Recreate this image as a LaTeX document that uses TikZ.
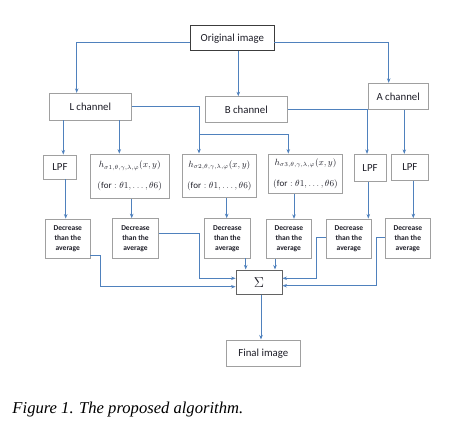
\documentclass[tikz,border=0pt]{standalone}
\usepackage{fontspec}
\setmainfont{Carlito}
\newfontfamily\capfont{Liberation Serif}
\usetikzlibrary{arrows.meta}
\definecolor{lineblue}{RGB}{79,129,189}
\definecolor{boxgray}{RGB}{160,160,160}
\definecolor{boxdark}{RGB}{60,60,60}
\definecolor{txt}{RGB}{30,30,40}
\begin{document}
\begin{tikzpicture}[x=1pt,y=-1pt,
  box/.style={draw=boxgray,line width=0.9pt,fill=white,inner sep=0pt,text=txt,align=center,font=\fontsize{10.8}{13}\selectfont},
  decbox/.style={box,font=\fontsize{7.5}{10}\selectfont\bfseries},
  hbox/.style={box,font=\fontsize{9}{11}\selectfont},
  conn/.style={draw=lineblue,line width=0.8pt},
  arr/.style={conn,-{Stealth[length=4.5pt,width=3.5pt]}}]
\useasboundingbox (0,0) rectangle (452,425);
\fill[white] (0,0) rectangle (452,425);
% nodes
\node[box,draw=boxdark,minimum width=83.3pt,minimum height=25pt] (orig) at (232.3,38.2) {Original image};
\node[box,minimum width=82.7pt,minimum height=26.7pt] (L) at (90.3,106.7) {L channel};
\node[box,minimum width=82.7pt,minimum height=26pt] (B) at (246.3,109.7) {B channel};
\node[box,minimum width=60.3pt,minimum height=26pt] (A) at (398.2,96.3) {A channel};
\node[box,minimum width=33.3pt,minimum height=24pt] (lpf1) at (60,167) {LPF};
\node[hbox,minimum width=79.3pt,minimum height=44.3pt] (h1) at (129.7,176.2) {$h_{\sigma1,\theta,\gamma,\lambda,\varphi}(x,y)$\\[10pt]$(\mathrm{for}:\theta1,\ldots,\theta6)$};
\node[hbox,minimum width=74.7pt,minimum height=43.7pt] (h2) at (219.3,175.8) {$h_{\sigma2,\theta,\gamma,\lambda,\varphi}(x,y)$\\[10pt]$(\mathrm{for}:\theta1,\ldots,\theta6)$};
\node[hbox,minimum width=74.3pt,minimum height=39.3pt] (h3) at (305.5,173.7) {$h_{\sigma3,\theta,\gamma,\lambda,\varphi}(x,y)$\\[10pt]$(\mathrm{for}:\theta1,\ldots,\theta6)$};
\node[box,minimum width=32pt,minimum height=27.3pt] (lpf3) at (370,168) {LPF};
\node[box,minimum width=37.7pt,minimum height=25.7pt] (lpf4) at (409.8,167.2) {LPF};
\node[decbox,minimum width=44.3pt,minimum height=39.3pt] (d1) at (67.8,238.7) {Decrease\\than the\\average};
\node[decbox,minimum width=45.7pt,minimum height=39.7pt] (d2) at (135.5,238.5) {Decrease\\than the\\average};
\node[decbox,minimum width=45.3pt,minimum height=39.3pt] (d3) at (227.3,238.3) {Decrease\\than the\\average};
\node[decbox,minimum width=45.7pt,minimum height=39pt] (d4) at (288.8,238.8) {Decrease\\than the\\average};
\node[decbox,minimum width=45.7pt,minimum height=39pt] (d5) at (348.8,238.5) {Decrease\\than the\\average};
\node[decbox,minimum width=45.7pt,minimum height=39.3pt] (d6) at (407.8,238.3) {Decrease\\than the\\average};
\node[box,draw=boxdark!80,minimum width=46pt,minimum height=24.7pt,font=\fontsize{15}{17}\selectfont] (S) at (259,282.3) {$\Sigma$};
\node[box,minimum width=73.3pt,minimum height=26.7pt] (F) at (263.3,353.3) {Final image};
% bend coordinates
\coordinate (jL) at (199,134.3);
\coordinate (b1) at (100,286.7);
\coordinate (b2) at (199,278.3);
\coordinate (b5) at (316,278.3);
\coordinate (b6) at (376.7,285.7);
% connectors
\draw[arr] ([yshift=-4pt]orig.west) -| ([xshift=-13.6pt]L.north);
\draw[arr] ([yshift=-4pt]orig.east) -| ([xshift=-9.5pt]A.north);
\draw[arr] ([xshift=6pt]orig.south) -- ([xshift=6pt]orig.south |- B.north);
\draw[arr] ([xshift=3.3pt]lpf1.north |- L.south) -- ([xshift=3.3pt]lpf1.north);
\draw[arr] ([xshift=-10.4pt]h1.north |- L.south) -- ([xshift=-10.4pt]h1.north);
\draw[conn] (L.east) -| (jL);
\draw[arr] (jL) -- ([xshift=-20.3pt]h2.north);
\draw[arr] (jL) -| ([xshift=-17.2pt]h3.north);
\draw[arr] (B.east) -| ([xshift=-3pt]lpf3.north);
\draw[arr] ([xshift=-5.5pt]lpf4.north |- A.south) -- ([xshift=-5.5pt]lpf4.north);
\draw[arr] ([xshift=5.7pt]lpf1.south) -- ([xshift=5.7pt]lpf1.south |- d1.north);
\draw[arr] ([xshift=2pt]h1.south) -- ([xshift=2pt]h1.south |- d2.north);
\draw[arr] ([xshift=7.4pt]h2.south) -- ([xshift=7.4pt]h2.south |- d3.north);
\draw[arr] ([xshift=-11.5pt]h3.south) -- ([xshift=-11.5pt]h3.south |- d4.north);
\draw[arr] ([xshift=-1.7pt]lpf3.south) -- ([xshift=-1.7pt]lpf3.south |- d5.north);
\draw[arr] ([xshift=3.5pt]lpf4.south) -- ([xshift=3.5pt]lpf4.south |- d6.north);
\draw[arr] ([yshift=-16.3pt]d1.east) -| (b1) -- (b1 -| S.west);
\draw[arr] ([yshift=5.2pt]d2.east) -| (b2) -- (b2 -| S.west);
\draw[arr] ([xshift=-13.3pt]S.north |- d3.south) -- ([xshift=-13.3pt]S.north);
\draw[arr] ([xshift=16pt]S.north |- d4.south) -- ([xshift=16pt]S.north);
\draw[arr] ([yshift=1pt]d5.west) -| (b5) -- (b5 -| S.east);
\draw[arr] ([yshift=1pt]d6.west) -| (b6) -- (b6 -| S.east);
\draw[arr] ([xshift=2pt]S.south) -- ([xshift=2pt]S.south |- F.north);
% caption
\node[anchor=base west,inner sep=0pt,font=\capfont\itshape\fontsize{16.6}{19}\selectfont] (cap) at (12.3,413.3) {Figure 1. The proposed algorithm.};
\end{tikzpicture}
\end{document}
